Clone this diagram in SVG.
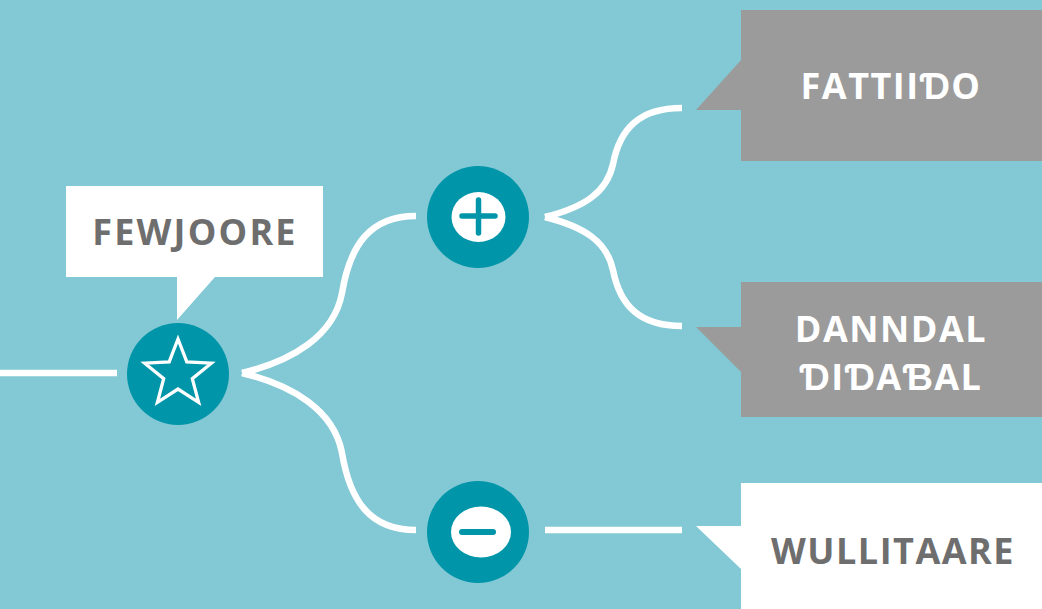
<svg xmlns="http://www.w3.org/2000/svg" width="1042" height="609" viewBox="0 0 1042 609">
<style>
.bg{fill:#82C8D5}
.conn{fill:none;stroke:#FFFFFF;stroke-width:6.5}
.hub{fill:#0095A8}
.lbl{font-family:"Open Sans","Liberation Sans",sans-serif;font-weight:bold;font-size:36px;letter-spacing:1.5px;text-anchor:middle}
.dark{fill:#6E6E6E}
.light{fill:#FFFFFF}
.gray{fill:#9B9B9B}
.white{fill:#FFFFFF}
</style>
<rect class="bg" x="0" y="0" width="1042" height="609"/>
<g id="connectors">
<line class="conn" x1="0" y1="373" x2="117" y2="373"/>
<path class="conn" d="M242,373 C292,361 334,336 342,293 C350,245 370,216 416,216"/>
<path class="conn" d="M242,373 C292,385 334,410 342,453 C350,501 370,530 416,530"/>
<path class="conn" d="M545,217 C585,207 607,192 613,164 C620,128 640,108 682,108"/>
<path class="conn" d="M545,217 C585,227 607,242 613,270 C620,306 640,326 682,326"/>
<line class="conn" x1="545" y1="530" x2="682" y2="530"/>
</g>
<g id="fewjoore">
<path class="white" d="M66,186 H323 V277 H215 L177,320 V277 H66 Z"/>
<text class="lbl dark" x="195" y="245" style="letter-spacing:2.2px">FEWJOORE</text>
</g>
<g id="star-node">
<circle class="hub" cx="178" cy="374" r="51"/>
<polygon fill="none" stroke="#FFFFFF" stroke-width="3.3" stroke-linejoin="miter" points="178,339 186.8,361.9 211.3,363.2 192.3,378.6 198.6,402.3 178,389 157.4,402.3 163.7,378.6 144.7,363.2 169.2,361.9"/>
</g>
<g id="plus-node">
<circle class="hub" cx="478" cy="217" r="51"/>
<ellipse class="white" cx="478.5" cy="217" rx="27" ry="25"/>
<path d="M462,216 H495 M478.5,200 V233" stroke="#0095A8" stroke-width="5.5" stroke-linecap="round" fill="none"/>
</g>
<g id="minus-node">
<circle class="hub" cx="478" cy="532" r="51"/>
<ellipse class="white" cx="481" cy="532" rx="30" ry="25.5"/>
<path d="M462,532 H493" stroke="#0095A8" stroke-width="6" stroke-linecap="round" fill="none"/>
</g>
<g id="fattiido">
<path class="gray" d="M741,10 H1042 V161 H741 V110 H696 L741,60 Z"/>
<text class="lbl light" x="891" y="99">FATTIIƊO</text>
</g>
<g id="danndal-didabal">
<path class="gray" d="M741,282 H1042 V417 H741 V372 L696,327 H741 Z"/>
<text class="lbl light" x="891" y="342">DANNDAL</text>
<text class="lbl light" x="891" y="390">ƊIƊAƁAL</text>
</g>
<g id="wullitaare">
<path class="white" d="M741,483 H1042 V609 H741 V569 L696,526 H741 Z"/>
<text class="lbl dark" x="893" y="564">WULLITAARE</text>
</g>
</svg>
